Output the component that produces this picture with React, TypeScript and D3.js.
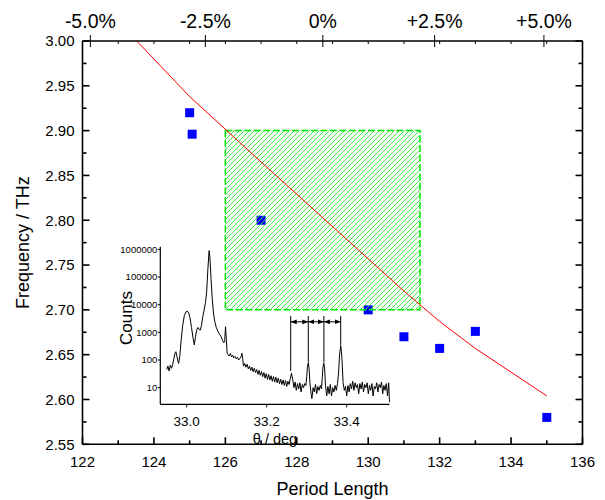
import React from "react";
import * as d3 from "d3";

// main chart values
const periodTicks = [122, 124, 126, 128, 130, 132, 134, 136];
const freqTicks = [2.55, 2.6, 2.65, 2.7, 2.75, 2.8, 2.85, 2.9, 2.95, 3.0];
const topTickLabels = ["-5.0%", "-2.5%", "0%", "+2.5%", "+5.0%"];
const topTickPeriods = [122.22, 125.44, 128.73, 131.86, 134.92];

const measPeriod = [125, 125.07, 127, 130, 131, 132, 133, 135];
const measFreq = [2.92, 2.896, 2.8, 2.7, 2.67, 2.657, 2.676, 2.58];

const calcPeriod = [123.52, 125, 127, 130, 131, 132, 133, 135];
const calcFreq = [3.0, 2.938, 2.865, 2.757, 2.721, 2.687, 2.657, 2.604];

const boxPeriods = [126, 131.45];
const boxFreqs = [2.7, 2.9];

// inset (XRD scan)
const insetXTicks = [33.0, 33.2, 33.4];
const insetYTicks = [10, 100, 1000, 10000, 100000, 1000000];
const insetYLabels = ["10", "100", "1000", "10000", "100000", "1000000"];
const markerAngles = [33.26, 33.304, 33.343, 33.385];
const markerBottoms = [40, 80, 80, 330];
const markerTop = 3900;
const arrowLevel = 2400;

const xrd: [number, number][] = [
  [32.95, 45], [32.953, 60], [32.956, 40], [32.959, 65], [32.962, 50], [32.965, 70],
  [32.968, 110], [32.971, 180], [32.973, 200], [32.975, 150], [32.978, 90], [32.98, 75],
  [32.983, 150], [32.986, 500], [32.99, 1800], [32.994, 4000], [32.998, 5500], [33.002, 5800],
  [33.005, 5000], [33.008, 3500], [33.012, 1500], [33.016, 600], [33.019, 350], [33.022, 700],
  [33.025, 1200], [33.028, 1500], [33.031, 1300], [33.034, 1200], [33.037, 1800], [33.04, 3500],
  [33.044, 7000], [33.047, 12000], [33.05, 30000], [33.053, 200000], [33.056, 900000],
  [33.058, 500000], [33.061, 80000], [33.064, 15000], [33.067, 5000], [33.07, 2500],
  [33.074, 1500], [33.078, 1100], [33.082, 850], [33.086, 700], [33.09, 500], [33.093, 420],
  [33.095, 500], [33.097, 1600], [33.099, 600], [33.101, 180],
  [33.103, 160], [33.106, 140], [33.109, 170], [33.112, 130], [33.115, 150], [33.118, 120],
  [33.121, 135], [33.124, 110], [33.127, 125], [33.13, 100], [33.133, 115], [33.136, 130],
  [33.138, 175], [33.14, 110], [33.142, 60], [33.145, 75], [33.148, 55], [33.151, 70],
  [33.154, 48], [33.157, 60], [33.16, 42], [33.163, 55], [33.166, 38], [33.169, 50],
  [33.172, 35], [33.175, 45], [33.178, 30], [33.181, 42], [33.184, 28], [33.187, 38],
  [33.19, 25], [33.193, 35], [33.196, 22], [33.199, 32], [33.202, 20], [33.205, 30],
  [33.208, 19], [33.211, 27], [33.214, 17], [33.217, 25], [33.22, 16], [33.223, 24],
  [33.226, 15], [33.229, 22], [33.232, 14], [33.235, 20], [33.238, 13], [33.241, 19],
  [33.244, 12], [33.247, 18], [33.25, 11], [33.253, 17], [33.256, 13], [33.259, 22],
  [33.262, 33], [33.265, 20], [33.268, 10], [33.271, 16], [33.274, 8], [33.277, 14],
  [33.28, 9], [33.283, 15], [33.286, 7], [33.289, 13], [33.292, 10], [33.295, 14],
  [33.298, 12], [33.3, 25], [33.302, 60], [33.304, 78], [33.306, 50], [33.308, 15],
  [33.311, 6], [33.313, 4], [33.316, 10], [33.319, 7], [33.322, 13], [33.325, 6],
  [33.328, 11], [33.331, 8], [33.334, 12], [33.337, 9], [33.339, 25], [33.341, 60],
  [33.343, 76], [33.345, 45], [33.347, 12], [33.35, 5], [33.353, 11], [33.356, 6],
  [33.359, 13], [33.362, 5], [33.365, 10], [33.368, 7], [33.371, 12], [33.374, 8],
  [33.377, 14], [33.38, 40], [33.382, 150], [33.385, 320], [33.387, 200], [33.389, 60],
  [33.391, 15], [33.394, 8], [33.397, 11], [33.4, 5], [33.403, 12], [33.406, 7],
  [33.409, 14], [33.412, 9], [33.415, 17], [33.418, 8], [33.421, 15], [33.424, 10],
  [33.427, 13], [33.43, 6], [33.433, 14], [33.436, 9], [33.439, 16], [33.442, 7],
  [33.445, 13], [33.448, 10], [33.451, 15], [33.454, 6], [33.457, 12], [33.46, 8],
  [33.463, 14], [33.466, 5], [33.469, 11], [33.472, 9], [33.475, 15], [33.478, 7],
  [33.481, 13], [33.484, 10], [33.487, 16], [33.49, 6], [33.493, 12], [33.496, 8],
  [33.499, 14], [33.502, 5], [33.505, 15], [33.507, 3],
];

const W = 605, H = 500;
const font = "'Liberation Sans', Arial, Helvetica, sans-serif";

export default function App() {
  const margin = { left: 82.5, right: 22.5, top: 41, bottom: 55.7 };
  const x = d3.scaleLinear().domain([122, 136]).range([margin.left, W - margin.right]);
  const y = d3.scaleLinear().domain([2.55, 3.0]).range([H - margin.bottom, margin.top]);
  const [x0, x1] = x.range();
  const [y0, y1] = y.range();

  const ix = d3.scaleLinear().domain([32.934, 33.507]).range([160.3, 389.5]);
  const iy = d3.scaleLog().domain([2.5, 1.25e6]).range([404.3, 246.7]);

  const calcLine = d3.line<number>().x((d) => x(d)).y((_, i) => y(calcFreq[i]));
  const xrdLine = d3.line<[number, number]>().x((d) => ix(d[0])).y((d) => iy(d[1]));

  const freqMinor = freqTicks.slice(0, -1).map((v) => v + 0.025);
  const periodMinor = periodTicks.slice(0, -1).map((v) => v + 1);
  const topMinor = d3.range(periodTicks[0] + 1, periodTicks[periodTicks.length - 1]);

  const sq = 9;
  const axisStroke = { stroke: "#000", strokeWidth: 1.6 };

  return (
    <svg width={W} height={H} style={{ position: "absolute", left: 0, top: 0, background: "#fff" }} fontFamily={font}>
      <defs>
        <pattern id="hatch" patternUnits="userSpaceOnUse" width={5} height={5}>
          <path d="M-1,1 l2,-2 M0,5 l5,-5 M4,6 l2,-2" stroke="#2ee62e" strokeWidth={0.9} />
        </pattern>
        <marker id="arr" viewBox="0 0 6 6" refX={6} refY={3} markerWidth={6} markerHeight={6}
          markerUnits="userSpaceOnUse" orient="auto-start-reverse">
          <path d="M0,0.6 L6,3 L0,5.4 Z" fill="#000" />
        </marker>
      </defs>

      {/* measured points */}
      {measPeriod.map((p, i) => (
        <rect key={i} x={x(p) - sq / 2} y={y(measFreq[i]) - sq / 2} width={sq} height={sq} fill="#0000ff" />
      ))}

      {/* hatched region */}
      <rect x={x(boxPeriods[0])} y={y(boxFreqs[1])} width={x(boxPeriods[1]) - x(boxPeriods[0])}
        height={y(boxFreqs[0]) - y(boxFreqs[1])} fill="url(#hatch)" stroke="#00e600"
        strokeWidth={1.5} strokeDasharray="7,2.5" />

      {/* calculated line */}
      <path d={calcLine(calcPeriod) || ""} fill="none" stroke="#ff0000" strokeWidth={1} />

      {/* frame */}
      <line x1={x0} x2={x1} y1={y0} y2={y0} {...axisStroke} />
      <line x1={x0} x2={x1} y1={y1} y2={y1} {...axisStroke} />
      <line x1={x0} x2={x0} y1={y0} y2={y1} {...axisStroke} />
      <line x1={x1} x2={x1} y1={y0} y2={y1} {...axisStroke} />

      {/* left / right ticks */}
      {freqTicks.map((v) => (
        <g key={v}>
          <line x1={x0} x2={x0 + 7} y1={y(v)} y2={y(v)} {...axisStroke} />
          <line x1={x1} x2={x1 - 7} y1={y(v)} y2={y(v)} {...axisStroke} />
          <text x={x0 - 8} y={y(v)} dy="0.36em" textAnchor="end" fontSize={15}>{v.toFixed(2)}</text>
        </g>
      ))}
      {freqMinor.map((v) => (
        <g key={v}>
          <line x1={x0} x2={x0 + 4} y1={y(v)} y2={y(v)} {...axisStroke} />
          <line x1={x1} x2={x1 - 4} y1={y(v)} y2={y(v)} {...axisStroke} />
        </g>
      ))}

      {/* bottom ticks */}
      {periodTicks.map((v) => (
        <g key={v}>
          <line x1={x(v)} x2={x(v)} y1={y0} y2={y0 - 7} {...axisStroke} />
          <text x={x(v)} y={467} textAnchor="middle" fontSize={15}>{v}</text>
        </g>
      ))}
      {periodMinor.map((v) => (
        <line key={v} x1={x(v)} x2={x(v)} y1={y0} y2={y0 - 4} {...axisStroke} />
      ))}

      {/* top axis */}
      {topMinor.map((v) => (
        <line key={v} x1={x(v)} x2={x(v)} y1={y1} y2={y1 + 3} stroke="#000" strokeWidth={1} />
      ))}
      {topTickPeriods.map((p, i) => (
        <g key={i}>
          <line x1={x(p)} x2={x(p)} y1={y1 - 6} y2={y1 + 6} stroke="#000" strokeWidth={1} />
          <text x={x(p)} y={28} textAnchor="middle" fontSize={19.5}>{topTickLabels[i]}</text>
        </g>
      ))}

      {/* axis titles */}
      <text x={(x0 + x1) / 2} y={495} textAnchor="middle" fontSize={18}>Period Length</text>
      <text transform={`translate(29,${(y0 + y1) / 2}) rotate(-90)`} textAnchor="middle" fontSize={18}>
        Frequency / THz
      </text>

      {/* inset */}
      <g>
        <path d={xrdLine(xrd) || ""} fill="none" stroke="#000" strokeWidth={1} strokeLinejoin="round" />
        {markerAngles.map((a, i) => (
          <line key={a} x1={ix(a)} x2={ix(a)} y1={iy(markerTop)} y2={iy(markerBottoms[i])} stroke="#000" strokeWidth={1} />
        ))}
        {markerAngles.slice(0, -1).map((a, i) => (
          <line key={a} x1={ix(a)} x2={ix(markerAngles[i + 1])} y1={iy(arrowLevel)} y2={iy(arrowLevel)}
            stroke="#000" strokeWidth={1} markerStart="url(#arr)" markerEnd="url(#arr)" />
        ))}
        <line x1={ix.range()[0]} x2={ix.range()[0]} y1={iy.range()[0]} y2={iy.range()[1]} stroke="#000" strokeWidth={1.2} />
        <line x1={ix.range()[0]} x2={ix.range()[1]} y1={iy.range()[0]} y2={iy.range()[0]} stroke="#000" strokeWidth={1.2} />
        {insetYTicks.map((v, i) => (
          <g key={v}>
            <line x1={ix.range()[0] - 2.5} x2={ix.range()[0]} y1={iy(v)} y2={iy(v)} stroke="#000" strokeWidth={1} />
            <text x={ix.range()[0] - 3} y={iy(v)} dy="0.36em" textAnchor="end" fontSize={9.5}>{insetYLabels[i]}</text>
          </g>
        ))}
        {insetXTicks.map((v) => (
          <g key={v}>
            <line x1={ix(v)} x2={ix(v)} y1={iy.range()[0]} y2={iy.range()[0] + 3} stroke="#000" strokeWidth={1} />
            <text x={ix(v)} y={426} textAnchor="middle" fontSize={13.5}>{v.toFixed(1)}</text>
          </g>
        ))}
        <text x={275} y={444} textAnchor="middle" fontSize={14.5}>θ / deg</text>
        <text transform="translate(132,318) rotate(-90)" textAnchor="middle" fontSize={17}>Counts</text>
      </g>
    </svg>
  );
}
